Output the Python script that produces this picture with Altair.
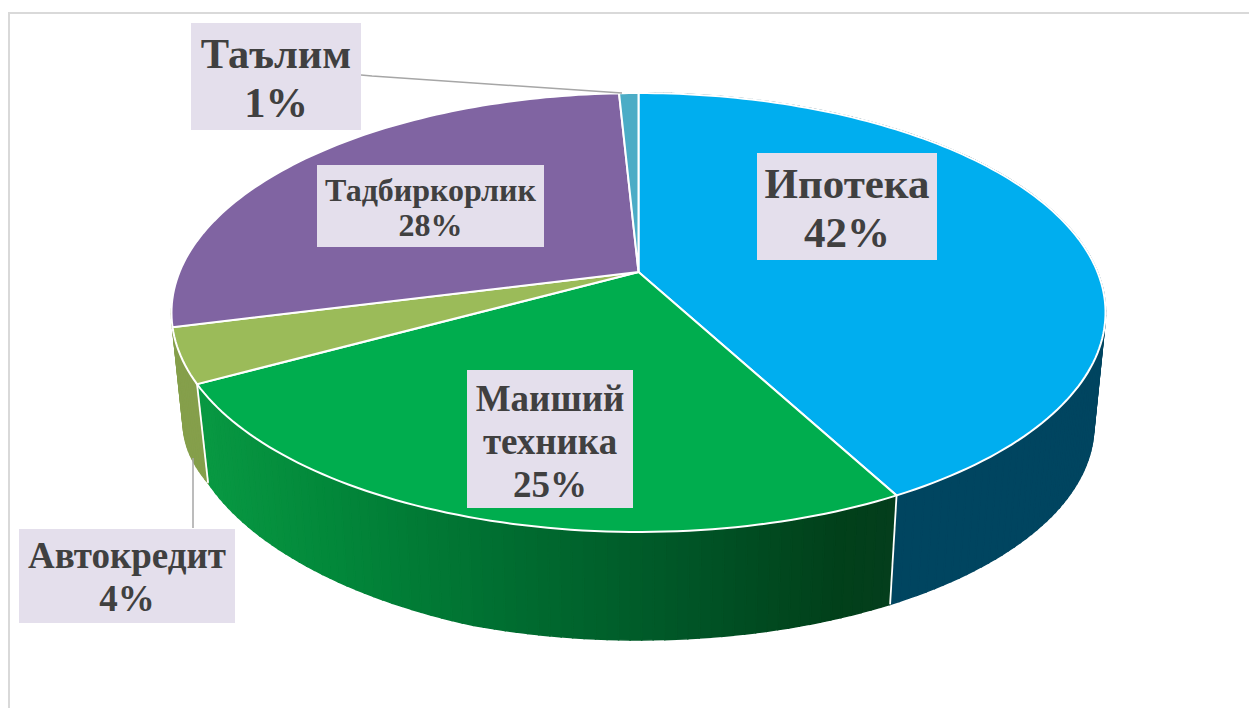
import math
import altair as alt
import pandas as pd

# ---- chart values
names = ["Ипотека", "Маиший техника", "Автокредит", "Тадбиркорлик", "Таълим"]
shares = [42.2, 24.8, 4, 28.2, 0.8]
top_colors = ["#00AEEF", "#00AD4E", "#9BBB59", "#8064A2", "#4BACC6"]
wall_colors = ["#004560", None, "#859F4B", "#859F4B", "#859F4B"]

# green wall shading, left to right
green_stops = [(205, (8, 152, 66)), (330, (2, 136, 58)), (520, (0, 108, 48)),
               (700, (0, 84, 38)), (845, (1, 64, 26)), (900, (4, 62, 28))]

# ---- label boxes
label_lines = [["Ипотека", "42%"], ["Маиший", "техника", "25%"], ["Автокредит", "4%"],
               ["Тадбиркорлик", "28%"], ["Таълим", "1%"]]
label_boxes = [(757, 153, 937, 260), (467, 370, 633, 508), (19, 529, 235, 623),
               (317, 165, 544, 247), (191, 23, 361, 130)]
label_sizes = [43, 37, 37, 32, 42.5]
label_first = [198, 411, 568, 201, 68]
label_step = [49, 43, 43, 35, 49]

# ---- perspective pie geometry
CX, CY = 638.5, 272
A, B, K = 459, 212, 0.1845
SCALE_LOW, DEPTH = 0.975, 114.5


def rim(pct, low=False):
    t = 2 * math.pi * pct / 100
    u, v = math.sin(t), math.cos(t)
    d = 1 + K * v
    s = SCALE_LOW if low else 1
    lift = 0
    if low and 55 < pct <= 67:
        lift = 13 * (pct - 55) / 12
    elif low and 67 < pct < 76:
        lift = 13 - 10 * (pct - 67) / 5 if pct < 72 else 3
    return CX + s * A * u / d, CY + (DEPTH if low else 0) - s * B * v / d - lift


def mix(x):
    if x <= green_stops[0][0]:
        c = green_stops[0][1]
    elif x >= green_stops[-1][0]:
        c = green_stops[-1][1]
    else:
        for (a, ca), (b, cb) in zip(green_stops, green_stops[1:]):
            if a <= x <= b:
                f = (x - a) / (b - a)
                c = tuple(round(p + (q - p) * f) for p, q in zip(ca, cb))
                break
    return "#%02x%02x%02x" % tuple(c)


tops, walls, seams = [], [], []
start = 0
for k, (n, sh) in enumerate(zip(names, shares)):
    end = start + sh
    steps = max(4, int(sh * 3))
    pts = [(CX, CY)] + [rim(start + (end - start) * i / steps) for i in range(steps + 1)] + [(CX, CY)]
    for i, (x, y) in enumerate(pts):
        tops.append(dict(id=n, i=i, x=x, y=y, c=top_colors[k]))
    for j in range(steps):
        a, b = start + (end - start) * j / steps, start + (end - start) * (j + 1) / steps
        if a >= 72.05:      # nothing behind the left edge of the pie shows
            continue
        quad = [rim(a), rim(b), rim(b, True), rim(a, True), rim(a)]
        col = wall_colors[k] or mix(quad[0][0])
        for i, (x, y) in enumerate(quad):
            walls.append(dict(id=f"{n}{j}", i=i, x=x, y=y, c=col))
    for i, (x, y) in enumerate([rim(end), rim(end, True)]):
        seams.append(dict(id=n, i=i, x=x, y=y))
    start = end
seams = [s for s in seams if s["id"] in ("Ипотека", "Маиший техника")]

boxes = [dict(x=b[0], y=b[1], x2=b[2], y2=b[3]) for b in label_boxes]
texts = []
for k, lines in enumerate(label_lines):
    for j, line in enumerate(lines):
        texts.append(dict(t=line, x=(label_boxes[k][0] + label_boxes[k][2]) / 2,
                          y=label_first[k] + j * label_step[k], s=label_sizes[k]))

leaders = [dict(id="a", i=0, x=361, y=75), dict(id="a", i=1, x=372, y=76), dict(id="a", i=2, x=622, y=93),
           dict(id="b", i=0, x=193, y=458), dict(id="b", i=1, x=193, y=528)]
frame = [dict(i=0, x=9, y=708), dict(i=1, x=9, y=13), dict(i=2, x=1249, y=13)]

X = alt.X("x:Q", scale=alt.Scale(domain=[8, 1249], nice=False, zero=False), axis=None)
Y = alt.Y("y:Q", scale=alt.Scale(domain=[708, 8], nice=False, zero=False), axis=None)

frame_l = alt.Chart(pd.DataFrame(frame)).mark_line(color="#D9D9D9", strokeWidth=2).encode(x=X, y=Y, order="i:Q")
wall_l = alt.Chart(pd.DataFrame(walls)).mark_line(filled=True, strokeWidth=1.5).encode(
    x=X, y=Y, order="i:Q", detail="id:N",
    fill=alt.Fill("c:N", scale=None), stroke=alt.Stroke("c:N", scale=None))
seam_l = alt.Chart(pd.DataFrame(seams)).mark_line(color="white", strokeWidth=1.8).encode(
    x=X, y=Y, order="i:Q", detail="id:N")
top_l = alt.Chart(pd.DataFrame(tops)).mark_line(filled=True, stroke="white", strokeWidth=2).encode(
    x=X, y=Y, order="i:Q", detail="id:N", fill=alt.Fill("c:N", scale=None))
lead_l = alt.Chart(pd.DataFrame(leaders)).mark_line(color="#A6A6A6", strokeWidth=1.5).encode(
    x=X, y=Y, order="i:Q", detail="id:N")
box_l = alt.Chart(pd.DataFrame(boxes)).mark_rect(color="#E4DFEC").encode(x=X, y=Y, x2="x2:Q", y2="y2:Q")
text_l = alt.Chart(pd.DataFrame(texts)).mark_text(
    font="Liberation Serif", fontWeight="bold", color="#404040", align="center", baseline="alphabetic"
).encode(x=X, y=Y, text="t:N", size=alt.Size("s:Q", scale=None, legend=None))

chart = alt.layer(frame_l, wall_l, seam_l, top_l, lead_l, box_l, text_l).properties(
    width=1241, height=700, padding=0, background="white",
    autosize=alt.AutoSizeParams(type="none", contains="padding")
).configure_view(stroke=None)
chart.save("out.html", embed_options={"renderer": "svg", "actions": False})
